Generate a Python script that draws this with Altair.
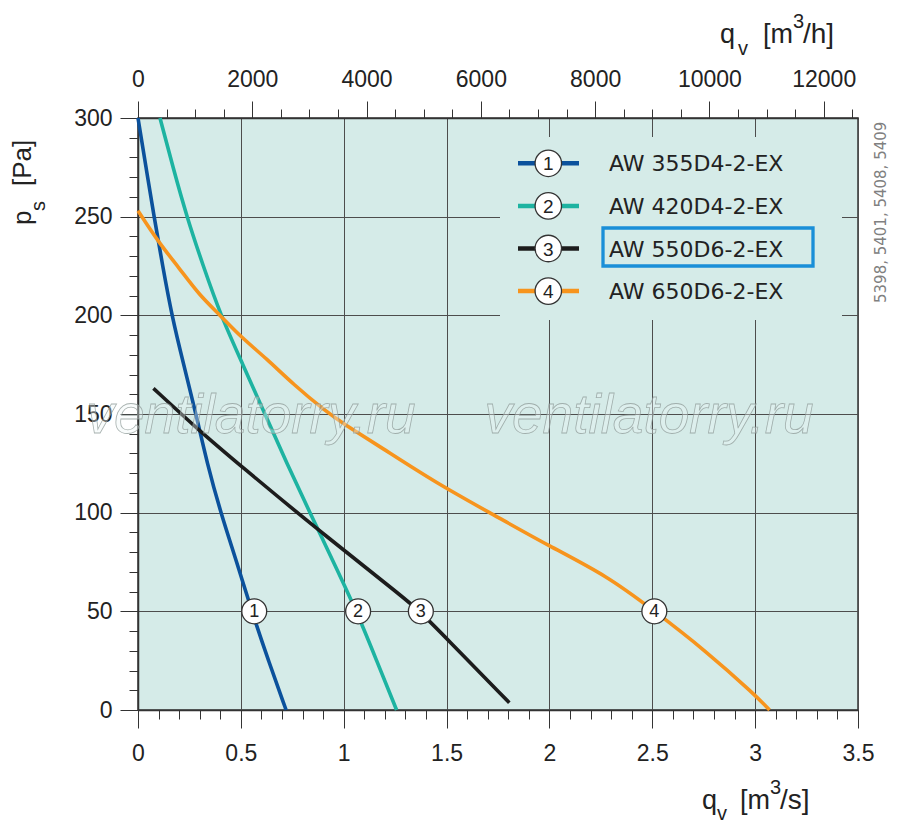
import altair as alt
import pandas as pd

# ---------------- data ----------------
names = ["AW 355D4-2-EX", "AW 420D4-2-EX", "AW 550D6-2-EX", "AW 650D6-2-EX"]
nums = ["1", "2", "3", "4"]
colors = ["#0b519c", "#1db3a1", "#1c1c1c", "#f7941d"]

q1 = [0.0, 0.039, 0.078, 0.12, 0.164, 0.222, 0.282, 0.336, 0.402, 0.48, 0.553, 0.634, 0.72]
p1 = [300, 275, 250, 225, 200, 175, 150, 125, 100, 75, 50, 25, 0]
q2 = [0.107, 0.17, 0.237, 0.317, 0.402, 0.51, 0.617, 0.723, 0.836, 0.95, 1.063, 1.16, 1.257]
p2 = [300, 275, 250, 225, 200, 175, 150, 125, 100, 75, 50, 25, 0]
q3 = [0.075, 0.293, 0.496, 0.885, 1.306, 1.371, 1.484, 1.805]
p3 = [163, 142, 124, 90.4, 55.8, 49.8, 38, 3.7]
q4 = [0.0, 0.1, 0.2, 0.3, 0.4, 0.5, 0.626, 0.755, 0.917, 1.0, 1.176, 1.45, 1.727,
      2.0, 2.28, 2.5, 2.76, 3.0, 3.07]
p4 = [253, 237, 224, 210, 200, 189, 178, 165, 151, 145, 133.5, 115, 99,
      83, 68, 51, 30, 7.6, 0]

label_q = [0.565, 1.07, 1.375, 2.51]
label_p = [50, 50, 50, 50]

x_major = [0, 0.5, 1, 1.5, 2, 2.5, 3, 3.5]
x_minor = [round(i * 0.1, 1) for i in range(36)]
y_major = [0, 50, 100, 150, 200, 250, 300]
y_minor = list(range(0, 301, 10))
top_major = [0, 2000, 4000, 6000, 8000, 10000, 12000]
top_minor = list(range(0, 12501, 500))

note = "5398, 5401, 5408, 5409"
watermark = "ventilatorry.ru"

# ---------------- tables ----------------
rows = []
for name, qs, ps in zip(names, [q1, q2, q3, q4], [p1, p2, p3, p4]):
    for k, (q, p) in enumerate(zip(qs, ps)):
        rows.append({"series": name, "q": q, "p": p, "k": k})
curve_df = pd.DataFrame(rows)
label_df = pd.DataFrame({"q": label_q, "p": label_p, "num": nums})

top_major_v = [v / 3600 for v in top_major]
top_minor_v = [v / 3600 for v in top_minor]

BG = "#d5ebe8"
TF = "Liberation Sans"
TXT = "#222222"
ONE = alt.Data(values=[{}])

xs = alt.Scale(domain=[0, 3.5], nice=False, zero=False)
ys = alt.Scale(domain=[0, 300], nice=False, zero=False)


def ax(orient, values, size, labels=True, grid=False, domain=False, **kw):
    return alt.Axis(orient=orient, values=values, tickSize=size, tickColor="#333333",
                    tickWidth=1, labels=labels, grid=grid, gridColor="#4d4d4d",
                    gridWidth=1, domain=domain, domainColor="#333333", domainWidth=1.5,
                    labelFont=TF, labelFontSize=23, labelColor=TXT, labelFlush=False,
                    labelOverlap=False, title=None, **kw)


def txt(s, x, y, size, font=TF, color=TXT, **kw):
    return alt.Chart(ONE).mark_text(font=font, fontSize=size, color=color,
                                    align="left", baseline="alphabetic", **kw).encode(
        x=alt.value(x), y=alt.value(y), text=alt.value(s))


# ---------------- layers ----------------
legend_bg = alt.Chart(ONE).mark_rect(color=BG).encode(
    x=alt.value(362), x2=alt.value(704), y=alt.value(19), y2=alt.value(202))

curves = alt.Chart(curve_df).mark_line(strokeWidth=3.6, interpolate="basis").encode(
    x=alt.X("q:Q", scale=xs, axis=ax("bottom", x_major, 18, grid=True, domain=True,
                                     format="~g", labelPadding=14)),
    y=alt.Y("p:Q", scale=ys, axis=ax("left", y_major, 18, grid=True, domain=True,
                                     labelPadding=8)),
    color=alt.Color("series:N", scale=alt.Scale(domain=names, range=colors), legend=None),
    order="k:Q",
)

circ = alt.Chart(label_df).mark_point(shape="circle", filled=True, fill="white",
                                      stroke="#333333", strokeWidth=1.3, size=620,
                                      opacity=1).encode(
    x=alt.X("q:Q", scale=xs, axis=ax("bottom", x_minor, 9, labels=False)),
    y=alt.Y("p:Q", scale=ys, axis=ax("left", y_minor, 9, labels=False)),
)

circ_txt = alt.Chart(label_df).mark_text(font=TF, fontSize=18, color=TXT, dy=1).encode(
    x=alt.X("q:Q", scale=xs, axis=ax("top", top_major_v, 17, domain=True,
                                     labelExpr="format(round(datum.value*3600),'d')",
                                     labelPadding=10)),
    y=alt.Y("p:Q", scale=ys, axis=None),
    text="num:N",
)

top_minor_layer = alt.Chart(label_df).mark_point(opacity=0).encode(
    x=alt.X("q:Q", scale=xs, axis=ax("top", top_minor_v, 9, labels=False)),
    y=alt.Y("p:Q", scale=ys, axis=None),
)

layers = [legend_bg, curves, circ, circ_txt, top_minor_layer]

# legend
for i in range(4):
    yy = 45.3 + 42.6 * i
    layers.append(alt.Chart(ONE).mark_rule(color=colors[i], strokeWidth=4.5).encode(
        x=alt.value(380), x2=alt.value(441), y=alt.value(yy)))
    layers.append(alt.Chart(ONE).mark_point(shape="circle", filled=True, fill="white",
                                            stroke="#333333", strokeWidth=1.3,
                                            size=700, opacity=1).encode(
        x=alt.value(410.3), y=alt.value(yy)))
    layers.append(alt.Chart(ONE).mark_text(font=TF, fontSize=19, color=TXT,
                                           baseline="middle", dy=1).encode(
        x=alt.value(410.3), y=alt.value(yy), text=alt.value(nums[i])))
    layers.append(alt.Chart(ONE).mark_text(font="DejaVu Sans", fontSize=22, color=TXT,
                                           align="left", baseline="middle").encode(
        x=alt.value(471), y=alt.value(yy + 1), text=alt.value(names[i])))

# highlight box
layers.append(alt.Chart(ONE).mark_rect(filled=False, stroke="#1a8fd8",
                                       strokeWidth=3.3).encode(
    x=alt.value(465), x2=alt.value(675), y=alt.value(110), y2=alt.value(148)))

# watermark
for cx in [113, 511]:
    layers.append(alt.Chart(ONE).mark_text(font=TF, fontStyle="italic", fontSize=55,
                                           fill="#eef6f5", fillOpacity=0.35,
                                           stroke="#8c9896", strokeWidth=0.8,
                                           strokeOpacity=0.75, align="center",
                                           baseline="alphabetic").encode(
        x=alt.value(cx), y=alt.value(315), text=alt.value(watermark)))

# top axis title  q_v [m3/h]
layers += [
    txt("q", 582, -75, 27), txt("v", 600, -63, 20), txt("[m", 625, -75, 27),
    txt("3", 655, -90, 20), txt("/h]", 665, -75, 28),
]
# bottom axis title q_v [m3/s]
layers += [
    txt("q", 564, 691, 27), txt("v", 579, 702, 20), txt("[m", 602, 691, 27),
    txt("3", 632, 676, 20), txt("/s]", 642, 691, 28),
]
# left axis title p_s [Pa]
layers += [
    txt("p", -107, 107, 26, angle=270), txt("s", -93, 93, 20, angle=270),
    txt("[Pa]", -107, 68, 26, angle=270),
]
# side note
layers.append(txt(note, 748, 185, 15, font="DejaVu Sans", color="#808080", angle=270))

chart = alt.layer(*layers).resolve_axis(x="independent", y="independent").properties(
    width=720, height=592,
    padding={"left": 130, "top": 110, "right": 34, "bottom": 116},
    autosize=alt.AutoSizeParams(type="none"),
    background="white",
).configure_view(fill=BG, stroke="#333333", strokeWidth=1.5)

chart.save("out.html", embed_options={"renderer": "svg", "actions": False})
